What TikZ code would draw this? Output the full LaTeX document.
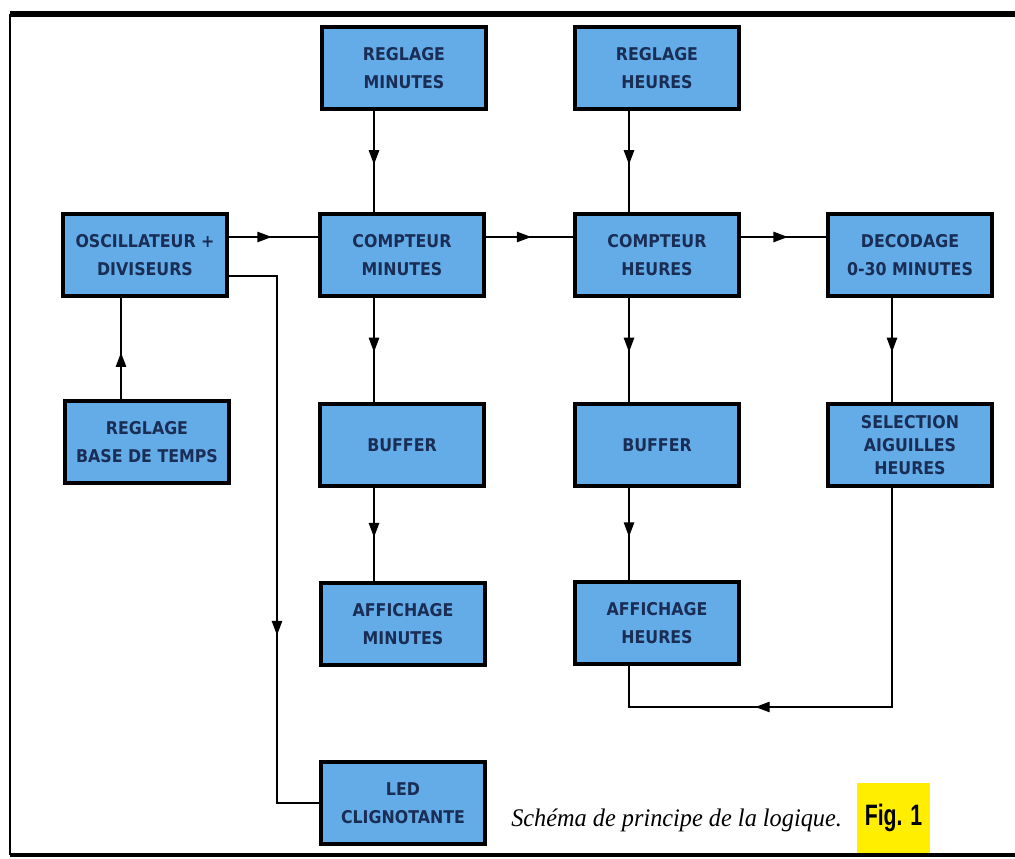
\documentclass[tikz,border=0pt]{standalone}
\usepackage{xcolor}
\usepackage{fontspec}
\usepackage{tikz}
\usetikzlibrary{arrows.meta, positioning, calc}
\usetikzlibrary{decorations.markings}

\newfontfamily\boxfont[FakeStretch=0.9]{DejaVu Sans}
\newfontfamily\capfont[FakeStretch=0.96]{Liberation Serif}
\newfontfamily\figfont[FakeStretch=0.72]{Liberation Sans}

\definecolor{boxblue}{RGB}{100,172,232}
\definecolor{inkblue}{RGB}{25,45,85}
\definecolor{figyellow}{RGB}{255,238,0}

\tikzset{
  blok/.style={draw=black, line width=2.6pt, fill=boxblue, text=inkblue,
    minimum width=4.1cm, minimum height=2.05cm, align=center, inner sep=2pt,
    font=\boxfont\bfseries\fontsize{12.5}{20}\selectfont},
  wire/.style={line width=1pt},
  flow/.style={wire, postaction={decorate}, decoration={markings,
    mark=at position #1 with {\arrow{Triangle[length=3.6mm,width=2.6mm]}}}},
  flow/.default=0.53
}

\begin{document}
\begin{tikzpicture}[x=0.025cm, y=-0.025cm]
  \useasboundingbox (0,0) rectangle (1015,859);

  % frame
  \draw[line width=4.2pt] (10,14) -- (1015,14);
  \draw[line width=3pt] (10,855) -- (1015,855);
  \draw[line width=1.4pt] (10,14) -- (10,855);

  % columns and rows of the wires
  \coordinate (colMin) at (374,0);
  \coordinate (colHr) at (629,0);
  \coordinate (colDec) at (892,0);
  \coordinate (colBase) at (121,0);
  \coordinate (colLed) at (277,0);
  \coordinate (rowMain) at (0,237);
  \coordinate (rowLed) at (0,276);
  \coordinate (rowRet) at (0,707);

  % blocks
  \node[blok] (regmin) at (404,68) {REGLAGE\\MINUTES};
  \node[blok] (reghr) at (657,68) {REGLAGE\\HEURES};
  \node[blok] (osc) at (145,255) {OSCILLATEUR +\\DIVISEURS};
  \node[blok] (cptmin) at (402,255) {COMPTEUR\\MINUTES};
  \node[blok] (cpthr) at (657,255) {COMPTEUR\\HEURES};
  \node[blok] (decod) at (910,255) {DECODAGE\\0-30 MINUTES};
  \node[blok] (regbase) at (147,442) {REGLAGE\\BASE DE TEMPS};
  \node[blok] (bufmin) at (402,445) {BUFFER};
  \node[blok] (bufhr) at (657,445) {BUFFER};
  \node[blok, font=\boxfont\bfseries\fontsize{12.5}{16.5}\selectfont] (sel) at (910,445) {SELECTION\\AIGUILLES\\HEURES};
  \node[blok] (affmin) at (403,624) {AFFICHAGE\\MINUTES};
  \node[blok] (affhr) at (657,623) {AFFICHAGE\\HEURES};
  \node[blok] (led) at (403,803) {LED\\CLIGNOTANTE};

  % wires
  \draw[flow] (regmin.south -| colMin) -- (cptmin.north -| colMin);
  \draw[flow] (reghr.south -| colHr) -- (cpthr.north -| colHr);
  \draw[flow=0.48] (osc.east |- rowMain) -- (cptmin.west |- rowMain);
  \draw[flow=0.52] (cptmin.east |- rowMain) -- (cpthr.west |- rowMain);
  \draw[flow=0.55] (cpthr.east |- rowMain) -- (decod.west |- rowMain);
  \draw[flow=0.46] (regbase.north -| colBase) -- (osc.south -| colBase);
  \draw[flow=0.52] (cptmin.south -| colMin) -- (bufmin.north -| colMin);
  \draw[flow] (bufmin.south -| colMin) -- (affmin.north -| colMin);
  \draw[flow=0.52] (cpthr.south -| colHr) -- (bufhr.north -| colHr);
  \draw[flow] (bufhr.south -| colHr) -- (affhr.north -| colHr);
  \draw[flow=0.52] (decod.south -| colDec) -- (sel.north -| colDec);
  \draw[flow=0.66] (osc.east |- rowLed) -- (colLed |- rowLed) -- (colLed |- led.west) -- (led.west);
  \draw[flow=0.68] (sel.south -| colDec) -- (colDec |- rowRet) -- (colHr |- rowRet) -- (affhr.south -| colHr);

  % caption
  \node[font=\capfont\itshape\fontsize{18}{20}\selectfont, anchor=base west, inner sep=0pt] (caption) at (511,826) {Schéma de principe de la logique.};
  \node[fill=figyellow, minimum width=1.83cm, minimum height=1.75cm, inner sep=0pt,
    font=\figfont\bfseries\fontsize{21}{22}\selectfont] (fig) at (893.5,818) {Fig. 1};

\end{tikzpicture}
\end{document}
